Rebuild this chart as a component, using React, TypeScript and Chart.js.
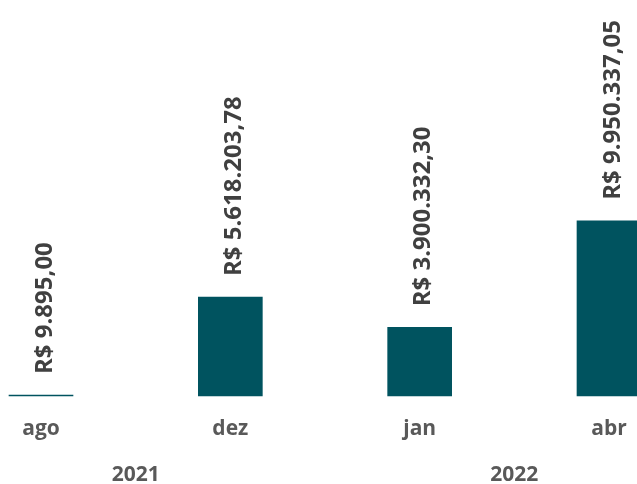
import React, { useEffect, useRef } from "react";
import { Chart, registerables } from "chart.js";

Chart.register(...registerables);

const categories = ["ago", "dez", "jan", "abr"];
const years = ["2021", "2021", "2022", "2022"];
const values = [9895.0, 5618203.78, 3900332.3, 9950337.05];

const BAR_COLOR = "#00535f";
const VALUE_COLOR = "#404040";
const AXIS_COLOR = "#595959";
const FONT_FAMILY = "'Open Sans', 'DejaVu Sans', sans-serif";

function formatBRL(v: number): string {
  const fixed = v.toFixed(2);
  const [intPart, dec] = fixed.split(".");
  const withDots = intPart.replace(/\B(?=(\d{3})+(?!\d))/g, ".");
  return "R$ " + withDots + "," + dec;
}

const labelsPlugin = {
  id: "customLabels",
  afterDatasetsDraw(chart: any) {
    const ctx = chart.ctx;
    const meta = chart.getDatasetMeta(0);
    ctx.save();
    ctx.font = `bold 24px ${FONT_FAMILY}`;
    ctx.fillStyle = VALUE_COLOR;
    ctx.textAlign = "left";
    ctx.textBaseline = "alphabetic";
    meta.data.forEach((bar: any, i: number) => {
      const x = bar.x + 10.5;
      const y = bar.y - 21;
      ctx.save();
      ctx.translate(x, y);
      ctx.rotate(-Math.PI / 2);
      ctx.fillText(formatBRL(values[i]), 0, 0);
      ctx.restore();
    });
    ctx.restore();
  },
  afterDraw(chart: any) {
    const ctx = chart.ctx;
    const xScale = chart.scales.x;
    ctx.save();
    ctx.font = `bold 21px ${FONT_FAMILY}`;
    ctx.fillStyle = AXIS_COLOR;
    ctx.textAlign = "center";
    ctx.textBaseline = "alphabetic";
    categories.forEach((c, i) => {
      ctx.fillText(c, xScale.getPixelForValue(i), 435);
    });
    // year groups
    let start = 0;
    for (let i = 1; i <= years.length; i++) {
      if (i === years.length || years[i] !== years[start]) {
        const x0 = xScale.getPixelForValue(start);
        const x1 = xScale.getPixelForValue(i - 1);
        ctx.fillText(years[start], (x0 + x1) / 2, 481);
        start = i;
      }
    }
    ctx.restore();
  },
};

export default function App() {
  const ref = useRef<HTMLCanvasElement | null>(null);
  useEffect(() => {
    if (!ref.current) return;
    const chart = new Chart(ref.current, {
      type: "bar",
      data: {
        labels: categories,
        datasets: [
          {
            data: values,
            backgroundColor: BAR_COLOR,
            barThickness: 64,
            minBarLength: 1,
            clip: false as any,
          },
        ],
      },
      options: {
        responsive: false,
        animation: false,
        layout: { padding: { left: 41, right: 28, top: 0, bottom: 88 } },
        plugins: { legend: { display: false }, tooltip: { enabled: false } },
        scales: {
          x: { type: "category", offset: false, display: false },
          y: { display: false, min: 0, max: 22500000 },
        },
      },
      plugins: [labelsPlugin],
    });
    return () => chart.destroy();
  }, []);
  return (
    <div style={{ position: "absolute", left: 0, top: 0, width: 637, height: 484, background: "#fff" }}>
      <canvas ref={ref} width={637} height={484} />
    </div>
  );
}
